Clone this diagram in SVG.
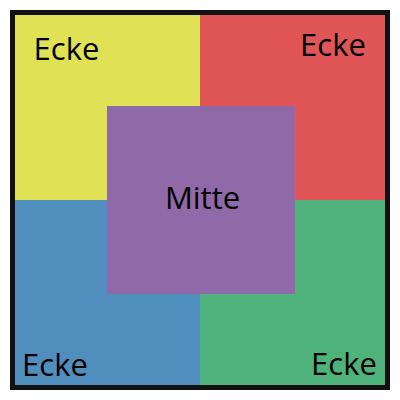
<svg xmlns="http://www.w3.org/2000/svg" width="400" height="400" viewBox="0 0 400 400">
<style>
text{font-family:"Open Sans","Noto Sans",sans-serif;font-size:31px;fill:#000;text-anchor:middle}
</style>
<rect width="400" height="400" fill="#fff"/>
<g id="ecke-ol"><rect x="15" y="15" width="185" height="185" fill="#e1e155"/><text x="66.5" y="60">Ecke</text></g>
<g id="ecke-or"><rect x="200" y="15" width="185" height="185" fill="#e05656"/><text x="333" y="56">Ecke</text></g>
<g id="ecke-ul"><rect x="15" y="200" width="185" height="185" fill="#508fbd"/><text x="55" y="376">Ecke</text></g>
<g id="ecke-ur"><rect x="200" y="200" width="185" height="185" fill="#4fb27b"/><text x="344" y="375">Ecke</text></g>
<g id="mitte"><rect x="107" y="106" width="188" height="188" fill="#9069a8"/><text x="202.5" y="209">Mitte</text></g>
<g id="rahmen"><rect x="12.5" y="12.5" width="375" height="375" fill="none" stroke="#111" stroke-width="5"/></g>
</svg>
